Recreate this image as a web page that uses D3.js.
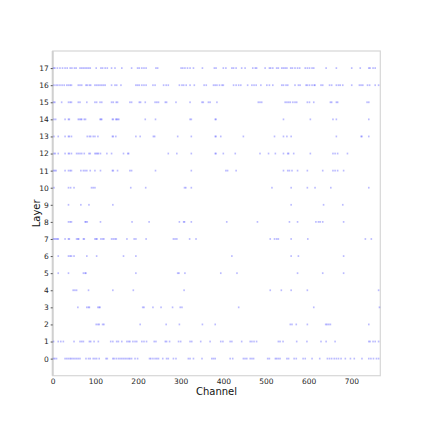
<!DOCTYPE html>
<html>
<head>
<meta charset="utf-8">
<script src="https://cdn.jsdelivr.net/npm/d3@7"></script>
<style>
  body { margin: 0; background: #fff; }
  svg { display: block; font-family: "DejaVu Sans", sans-serif; }
</style>
</head>
<body>
<svg id="chart" width="423" height="423"></svg>
<script>
// channels with a mark, one list per layer (0..17)
const layer0 = [2,5,9,29,33,37,41,44,48,52,56,60,64,78,84,88,95,99,103,109,125,128,141,144,149,154,158,162,166,170,174,178,181,185,193,199,227,230,235,240,244,248,258,267,271,283,289,318,322,330,350,373,377,381,416,422,447,451,455,463,467,471,504,508,522,525,529,533,549,553,566,571,587,592,608,626,644,649,654,660,665,670,676,686,698,707,725,741,746,752,759,764];
const layer1 = [2,13,19,25,50,64,68,72,86,89,97,107,136,141,150,154,162,174,178,181,188,193,197,209,214,220,238,242,264,267,274,295,300,322,326,347,369,394,399,416,420,443,463,467,472,478,529,533,540,572,596,629,641,662,741,744,751,756,764];
const layer2 = [102,106,109,117,120,205,266,297,351,381,557,561,571,597,640,643,647,651,741];
const layer3 = [59,80,84,86,106,109,111,211,214,235,254,281,299,303,436,612,766];
const layer4 = [48,52,56,84,141,189,308,510,536,559,597,764];
const layer5 = [13,37,72,76,78,195,293,296,310,394,432,574,633,682];
const layer6 = [13,37,41,44,50,80,103,166,195,420,559,576,682];
const layer7 = [2,5,8,11,13,29,37,39,56,59,61,72,74,99,102,104,113,117,120,138,142,146,149,174,191,195,219,283,287,291,321,336,510,520,525,529,559,598,733,747];
const layer8 = [37,41,44,76,78,81,112,186,226,297,307,309,325,408,480,555,574,617,623,627,633,682];
const layer9 = [37,66,85,141,559,635,680];
const layer10 = [3,37,42,50,91,95,99,183,218,309,312,325,514,559,597,615,652,741];
const layer11 = [2,5,8,29,37,41,44,66,72,76,80,88,99,112,140,142,152,181,185,241,325,406,410,430,541,551,555,561,574,597,633,657,662,668,682];
const layer12 = [3,6,13,29,37,39,44,56,60,64,68,74,85,88,99,102,105,107,112,127,138,166,176,178,271,291,325,381,383,400,428,486,506,522,541,551,553,565,604,657,662,668,691];
const layer13 = [3,13,29,37,39,44,81,86,89,95,99,106,140,142,148,195,205,236,239,293,325,381,383,394,447,520,541,549,559,665,723,725,741];
const layer14 = [3,7,29,37,39,60,63,66,68,74,77,111,113,115,140,142,148,150,152,155,217,241,322,325,381,383,541,604,657,665,741];
const layer15 = [2,5,21,37,41,44,60,64,80,99,103,111,115,138,142,149,152,181,185,203,206,217,240,244,248,264,267,289,322,350,353,365,369,385,482,486,490,545,549,553,557,563,568,572,597,602,612,651,654,665,668,737,741];
const layer16 = [3,8,12,17,22,27,33,37,41,44,60,64,68,78,81,86,89,99,103,107,111,115,119,123,138,146,150,160,195,199,203,209,214,219,235,240,260,266,271,297,303,307,313,322,332,355,360,377,381,385,391,397,400,424,430,436,441,457,467,472,477,488,502,508,516,537,541,547,551,568,576,580,594,597,602,608,613,615,629,633,649,654,665,670,674,680,701,719,723,727,738,743,756,764];
const layer17 = [2,5,11,17,23,29,34,41,45,51,55,64,68,72,76,80,84,88,102,113,117,123,128,138,146,162,185,199,203,209,214,219,242,246,301,305,310,316,322,330,351,379,383,400,406,420,424,430,443,451,469,475,478,498,508,511,516,525,529,537,541,545,549,558,562,568,574,579,592,597,602,608,612,641,665,701,721,741,744,751,756];

const layers = [layer0, layer1, layer2, layer3, layer4, layer5, layer6, layer7, layer8,
                layer9, layer10, layer11, layer12, layer13, layer14, layer15, layer16, layer17];
const xTicks = [0, 100, 200, 300, 400, 500, 600, 700];
const yTicks = d3.range(0, 18);

const points = [];
layers.forEach(function(chs, l) {
    chs.forEach(function(c) { points.push({channel: c, layer: l}); });
});

const svg = d3.select("#chart");
const plotLeft = 52.7, plotRight = 380.3, plotTop = 51, plotBottom = 375.7;

const x = d3.scaleLinear().domain([0, 768]).range([plotLeft, plotRight]);
const y = d3.scaleLinear().domain([-1, 18]).range([plotBottom, plotTop]);

// frame
svg.append("rect")
    .attr("x", plotLeft).attr("y", plotTop)
    .attr("width", plotRight - plotLeft).attr("height", plotBottom - plotTop)
    .attr("fill", "none")
    .attr("stroke", "#d6d6d6")
    .attr("stroke-width", 1.2);
svg.append("line")
    .attr("x1", plotLeft).attr("x2", plotLeft)
    .attr("y1", plotTop).attr("y2", plotBottom)
    .attr("stroke", "#d0d0d0")
    .attr("stroke-width", 2);

// marks
svg.append("g")
    .selectAll("rect")
    .data(points)
    .enter().append("rect")
    .attr("x", function(d) { return x(d.channel) - 0.8; })
    .attr("y", function(d) { return y(d.layer) - 0.9; })
    .attr("width", 1.6)
    .attr("height", 1.8)
    .attr("fill", "#2222ff")
    .attr("opacity", 0.3);

// axes
const xAxis = svg.append("g")
    .attr("transform", "translate(0," + plotBottom + ")")
    .call(d3.axisBottom(x).tickValues(xTicks).tickSize(0).tickPadding(2.5));
const yAxis = svg.append("g")
    .attr("transform", "translate(" + plotLeft + ",0)")
    .call(d3.axisLeft(y).tickValues(yTicks).tickSize(2).tickPadding(2));

[xAxis, yAxis].forEach(function(a) {
    a.select(".domain").remove();
    a.selectAll("text")
        .attr("fill", "#262626")
        .style("font-size", "7.5px")
        .style("font-family", "DejaVu Sans, sans-serif");
});
yAxis.selectAll("line").attr("stroke", "#555").attr("stroke-width", 1);

svg.append("text")
    .attr("x", (plotLeft + plotRight) / 2)
    .attr("y", 395)
    .attr("text-anchor", "middle")
    .style("font-size", "10px")
    .attr("fill", "#111")
    .text("Channel");

svg.append("text")
    .attr("transform", "translate(40," + ((plotTop + plotBottom) / 2) + ") rotate(-90)")
    .attr("text-anchor", "middle")
    .style("font-size", "10px")
    .attr("fill", "#111")
    .text("Layer");
</script>
</body>
</html>
